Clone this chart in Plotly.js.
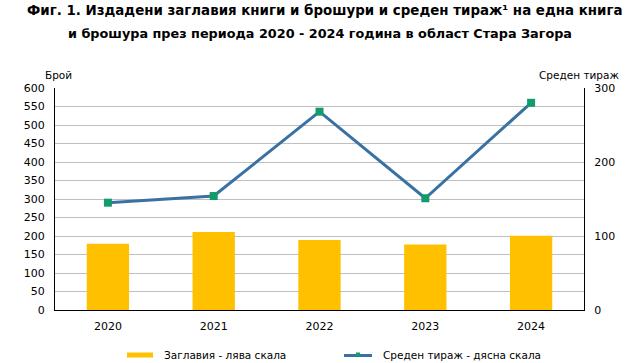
<!DOCTYPE html>
<html><head><meta charset="utf-8">
<script src="https://cdn.plot.ly/plotly-3.0.1.min.js"></script>
<style>body{margin:0;background:#fff}#c{width:640px;height:363px}</style>
</head><body><div id="c"></div>
<script>
const years = ['2020','2021','2022','2023','2024'];
const titles = [179, 211, 189, 177, 201];
const avgCirculation = [145, 154, 268, 151, 280];
const leftTicks = [0,50,100,150,200,250,300,350,400,450,500,550,600];
const rightTicks = [0,100,200,300];
const barName = 'Заглавия - лява скала';
const lineName = 'Среден тираж - дясна скала';

const font = 'Verdana, "DejaVu Sans", sans-serif';
const barColor = '#FFC000', lineColor = '#3A71A3', markerColor = '#139B6B';
// plot area in pixels
const L = 55, R = 584, T = 88, B = 310;
const px = x => (x - L) / (R - L);
const py = y => (B - y) / (B - T);

const traces = [
  {type:'bar', x:years, y:titles, name:barName, marker:{color:barColor}, width:0.4, yaxis:'y'},
  {type:'scatter', mode:'lines+markers', x:years, y:avgCirculation, name:lineName,
   line:{color:lineColor, width:3}, marker:{symbol:'square', size:8, color:markerColor}, yaxis:'y2'}
];
const layout = {
  width:640, height:363,
  margin:{l:L, r:640-R, t:T, b:363-B, autoexpand:false},
  paper_bgcolor:'#fff', plot_bgcolor:'#fff',
  font:{family:font, size:11, color:'#000'},
  xaxis:{type:'category', showline:true, linecolor:'#000', linewidth:1, ticks:'', tickfont:{size:11}, showgrid:false, ticklabelstandoff:6},
  yaxis:{range:[0,600], tickvals:leftTicks, showline:true, linecolor:'#000', linewidth:1, gridcolor:'#BFBFBF', gridwidth:1, zeroline:false, ticks:'', tickfont:{size:11}, ticklabelstandoff:7},
  yaxis2:{range:[0,300], tickvals:rightTicks, overlaying:'y', side:'right', showline:true, linecolor:'#000', linewidth:1, showgrid:false, zeroline:false, ticks:'', tickfont:{size:11}, ticklabelstandoff:7},
  showlegend:false,
  shapes:[
    {type:'rect', xref:'paper', yref:'paper', x0:px(127), x1:px(153), y0:py(357.5), y1:py(352.5), fillcolor:barColor, line:{width:0}},
    {type:'line', xref:'paper', yref:'paper', x0:px(344), x1:px(372), y0:py(355.5), y1:py(355.5), line:{color:lineColor, width:3}},
    {type:'rect', xref:'paper', yref:'paper', x0:px(356), x1:px(360), y0:py(356.5), y1:py(352.5), fillcolor:markerColor, line:{width:0}}
  ],
  annotations:[
    {text:'<b>Фиг. 1. Издадени заглавия книги и брошури и среден тираж¹ на една книга</b>', xref:'paper', yref:'paper', x:px(324), y:py(10), xanchor:'center', yanchor:'middle', showarrow:false, font:{size:13.4}},
    {text:'<b>и брошура през периода 2020 - 2024 година в област Стара Загора</b>', xref:'paper', yref:'paper', x:px(320), y:py(33), xanchor:'center', yanchor:'middle', showarrow:false, font:{size:12.8}},
    {text:'Брой', xref:'paper', yref:'paper', x:px(43), y:py(75), xanchor:'left', yanchor:'middle', showarrow:false, font:{size:10.5}},
    {text:'Среден тираж', xref:'paper', yref:'paper', x:px(621), y:py(75), xanchor:'right', yanchor:'middle', showarrow:false, font:{size:10.5}},
    {text:barName, xref:'paper', yref:'paper', x:px(162), y:py(355), xanchor:'left', yanchor:'middle', showarrow:false, font:{size:10.5}},
    {text:lineName, xref:'paper', yref:'paper', x:px(381), y:py(355), xanchor:'left', yanchor:'middle', showarrow:false, font:{size:10.5}}
  ]
};
Plotly.newPlot('c', traces, layout, {staticPlot:true});
</script></body></html>
